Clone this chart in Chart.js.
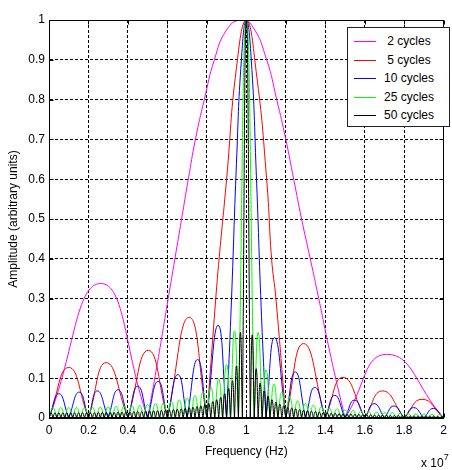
<!DOCTYPE html>
<html>
<head>
<meta charset="utf-8">
<script src="https://cdn.jsdelivr.net/npm/chart.js@4/dist/chart.umd.min.js"></script>
<style>
  body { margin: 0; background: #fff; }
  #wrap { position: relative; width: 452px; height: 470px; }
  #legend { position: absolute; left: 347px; top: 27px; width: 101px; height: 98px;
    border: 1px solid #222; background: #fff; font: 12px "Liberation Sans", Arial, sans-serif; color: #000; }
  .row { position: absolute; left: 0; width: 101px; height: 18px; }
  .row .ln { position: absolute; left: 6px; top: 9px; width: 22px; height: 1px; }
  .row .tx { position: absolute; left: 33px; width: 56px; top: 2px; text-align: center; white-space: nowrap; }
  #exp { position: absolute; left: 421px; top: 454px; font: 12px "Liberation Sans", Arial, sans-serif; color: #000; white-space: nowrap; }
  #exp sup { font-size: 9px; position: relative; top: -2px; }
</style>
</head>
<body>
<div id="wrap">
  <canvas id="myChart" width="452" height="470"></canvas>
  <div id="legend"></div>
  <div id="exp">x 10<sup>7</sup></div>
</div>
<script>
// axes
const xTickLabels = ["0", "0.2", "0.4", "0.6", "0.8", "1", "1.2", "1.4", "1.6", "1.8", "2"];
const yTickLabels = ["0", "0.1", "0.2", "0.3", "0.4", "0.5", "0.6", "0.7", "0.8", "0.9", "1"];
const seriesLabels = ["2 cycles", "5 cycles", "10 cycles", "25 cycles", "50 cycles"];
const seriesColors = ["#ff00ff", "#ff0000", "#0000ff", "#00ff00", "#000000"];

// frequency in units of 1e7 Hz; edges = zeros of the spectrum, pts = points read inside the lobes
const cyc2Edges = [0, 0.5, 1.5, 2];
const cyc2F = [0.262, 0.55, 0.604, 0.638, 0.672, 0.706, 0.742, 0.787, 0.838, 0.9, 0.97, 1.03, 1.103, 1.154, 1.2, 1.24, 1.28, 1.324, 1.367, 1.43, 1.712];
const cyc2A = [0.338, 0.14, 0.3, 0.4, 0.5, 0.6, 0.7, 0.8, 0.9, 0.975, 1, 0.985, 0.9, 0.8, 0.7, 0.6, 0.5, 0.4, 0.3, 0.15, 0.16];

const cyc5Edges = [0, 0.2, 0.4, 0.6, 0.8, 1.2, 1.4, 1.6, 1.8, 2];
const cyc5F = [0.1, 0.29, 0.503, 0.71, 0.845, 0.862, 0.9, 0.95, 1, 1.05, 1.103, 1.128, 1.15, 1.29, 1.49, 1.69, 1.89];
const cyc5A = [0.127, 0.139, 0.17, 0.253, 0.3, 0.4, 0.6, 0.88, 1, 0.87, 0.6, 0.4, 0.3, 0.187, 0.102, 0.068, 0.047];

const cyc10Edges = [0, 0.1, 0.2, 0.3, 0.4, 0.5, 0.6, 0.7, 0.8, 0.9, 1.1, 1.2, 1.3, 1.4, 1.5, 1.6, 1.7, 1.8, 1.9, 2];
const cyc10F = [0.05, 0.153, 0.245, 0.35, 0.45, 0.553, 0.653, 0.753, 0.857, 0.925, 0.95, 0.975, 1, 1.025, 1.05, 1.075,
  1.143, 1.248, 1.347, 1.448, 1.548, 1.648, 1.748, 1.848, 1.948];
const cyc10A = [0.061, 0.065, 0.068, 0.071, 0.08, 0.092, 0.109, 0.147, 0.233, 0.3, 0.64, 0.9, 1, 0.9, 0.62, 0.28,
  0.202, 0.116, 0.077, 0.057, 0.045, 0.036, 0.03, 0.026, 0.024];

const cyc25Edges = [0, 0.04, 0.08, 0.12, 0.16, 0.2, 0.24, 0.28, 0.32, 0.36, 0.4, 0.44, 0.48, 0.52, 0.56, 0.6, 0.64, 0.68, 0.72, 0.76, 0.8, 0.84, 0.88, 0.92, 0.96,
  1.04, 1.08, 1.12, 1.16, 1.2, 1.24, 1.28, 1.32, 1.36, 1.4, 1.44, 1.48, 1.52, 1.56, 1.6, 1.64, 1.68, 1.72, 1.76, 1.8, 1.84, 1.88, 1.92, 1.96, 2];
const cyc25Peaks = [0.026, 0.026, 0.026, 0.026, 0.026, 0.027, 0.027, 0.028, 0.029, 0.03, 0.031, 0.032, 0.034, 0.036, 0.038, 0.041, 0.045, 0.05, 0.056, 0.065, 0.078, 0.098, 0.134, 0.219,
  1,
  0.215, 0.121, 0.085, 0.065, 0.052, 0.043, 0.037, 0.032, 0.028, 0.025, 0.023, 0.02, 0.019, 0.017, 0.016, 0.015, 0.014, 0.013, 0.012, 0.011, 0.01, 0.01, 0.009, 0.009];

const cyc50Edges = [0, 0.02, 0.04, 0.06, 0.08, 0.1, 0.12, 0.14, 0.16, 0.18, 0.2, 0.22, 0.24, 0.26, 0.28, 0.3, 0.32, 0.34, 0.36, 0.38, 0.4, 0.42, 0.44, 0.46, 0.48,
  0.5, 0.52, 0.54, 0.56, 0.58, 0.6, 0.62, 0.64, 0.66, 0.68, 0.7, 0.72, 0.74, 0.76, 0.78, 0.8, 0.82, 0.84, 0.86, 0.88, 0.9, 0.92, 0.94, 0.96, 0.98,
  1.02, 1.04, 1.06, 1.08, 1.1, 1.12, 1.14, 1.16, 1.18, 1.2, 1.22, 1.24, 1.26, 1.28, 1.3, 1.32, 1.34, 1.36, 1.38, 1.4, 1.42, 1.44, 1.46, 1.48, 1.5,
  1.52, 1.54, 1.56, 1.58, 1.6, 1.62, 1.64, 1.66, 1.68, 1.7, 1.72, 1.74, 1.76, 1.78, 1.8, 1.82, 1.84, 1.86, 1.88, 1.9, 1.92, 1.94, 1.96, 1.98, 2];
const cyc50Peaks = [0.013, 0.013, 0.013, 0.013, 0.013, 0.013, 0.013, 0.013, 0.013, 0.013,
  0.013, 0.013, 0.014, 0.014, 0.014, 0.014, 0.014, 0.015, 0.015, 0.015,
  0.015, 0.016, 0.016, 0.016, 0.017, 0.017, 0.018, 0.018, 0.019, 0.02,
  0.02, 0.021, 0.022, 0.023, 0.024, 0.026, 0.027, 0.029, 0.031, 0.034,
  0.037, 0.041, 0.046, 0.052, 0.061, 0.074, 0.094, 0.131, 0.215,
  1,
  0.209, 0.124, 0.088, 0.068, 0.055, 0.046, 0.04, 0.035, 0.031, 0.027,
  0.025, 0.023, 0.021, 0.019, 0.018, 0.017, 0.016, 0.015, 0.014, 0.013,
  0.012, 0.012, 0.011, 0.01, 0.01, 0.01, 0.009, 0.009, 0.008, 0.008,
  0.008, 0.007, 0.007, 0.007, 0.007, 0.006, 0.006, 0.006, 0.006, 0.006,
  0.005, 0.005, 0.005, 0.005, 0.005, 0.005, 0.005, 0.004, 0.004];

// each lobe runs from one zero to the next; repeating the zero keeps the cusp sharp
function lobesFromPoints(edges, fs, amps) {
  const out = [];
  for (let i = 0; i < edges.length - 1; i++) {
    const a = edges[i], b = edges[i + 1];
    out.push({ x: a, y: 0 });
    fs.forEach(function(f, j) {
      if (f > a && f < b) out.push({ x: f, y: amps[j] });
    });
    out.push({ x: b, y: 0 });
  }
  return out;
}
function lobesFromPeaks(edges, peaks) {
  const out = [];
  for (let i = 0; i < edges.length - 1; i++) {
    out.push({ x: edges[i], y: 0 });
    out.push({ x: (edges[i] + edges[i + 1]) / 2, y: peaks[i] });
    out.push({ x: edges[i + 1], y: 0 });
  }
  return out;
}

const seriesData = [
  lobesFromPoints(cyc2Edges, cyc2F, cyc2A),
  lobesFromPoints(cyc5Edges, cyc5F, cyc5A),
  lobesFromPoints(cyc10Edges, cyc10F, cyc10A),
  lobesFromPeaks(cyc25Edges, cyc25Peaks),
  lobesFromPeaks(cyc50Edges, cyc50Peaks)
];

// legend box (html)
const legendTops = [4, 23, 41, 60, 78];
const legend = document.getElementById("legend");
seriesLabels.forEach(function(lab, i) {
  const row = document.createElement("div");
  row.className = "row";
  row.style.top = legendTops[i] + "px";
  const ln = document.createElement("div");
  ln.className = "ln";
  ln.style.backgroundColor = seriesColors[i];
  const tx = document.createElement("div");
  tx.className = "tx";
  tx.textContent = lab;
  row.appendChild(ln);
  row.appendChild(tx);
  legend.appendChild(row);
});

// box and inner tick marks like matlab
const boxPlugin = {
  id: "box",
  afterDatasetsDraw: function(chart) {
    const ctx = chart.ctx;
    const a = chart.chartArea;
    const l = Math.round(a.left) + 0.5, r = Math.round(a.right) - 0.5;
    const t = Math.round(a.top) + 0.5, b = Math.round(a.bottom) - 0.5;
    ctx.save();
    ctx.strokeStyle = "#000";
    ctx.lineWidth = 1;
    ctx.beginPath();
    chart.scales.x.ticks.forEach(function(tk) {
      const px = Math.round(chart.scales.x.getPixelForValue(tk.value)) + 0.5;
      ctx.moveTo(px, b); ctx.lineTo(px, b - 4);
      ctx.moveTo(px, t); ctx.lineTo(px, t + 4);
    });
    chart.scales.y.ticks.forEach(function(tk) {
      const py = Math.round(chart.scales.y.getPixelForValue(tk.value)) + 0.5;
      ctx.moveTo(l, py); ctx.lineTo(l + 4, py);
      ctx.moveTo(r, py); ctx.lineTo(r - 4, py);
    });
    ctx.stroke();
    ctx.strokeRect(l, t, r - l, b - t);
    ctx.restore();
  }
};

Chart.defaults.font.family = '"Liberation Sans", Arial, sans-serif';
Chart.defaults.font.size = 12;
Chart.defaults.color = "#000";

const ctx = document.getElementById("myChart").getContext("2d");
new Chart(ctx, {
  type: "line",
  data: {
    datasets: seriesData.map(function(d, i) {
      return {
        label: seriesLabels[i],
        data: d,
        borderColor: seriesColors[i],
        backgroundColor: seriesColors[i],
        borderWidth: 1,
        pointRadius: 0,
        tension: 0.5,
        fill: false,
        order: 4 - i
      };
    })
  },
  options: {
    responsive: false,
    animation: false,
    events: [],
    layout: { padding: { top: 20, right: 3, left: 0, bottom: 0 } },
    plugins: { legend: { display: false }, tooltip: { enabled: false } },
    scales: {
      x: {
        type: "linear",
        min: 0,
        max: 2,
        afterFit: function(s) { s.height = 52; },
        ticks: {
          stepSize: 0.2,
          padding: 5,
          maxRotation: 0,
          autoSkip: false,
          callback: function(v, i) { return xTickLabels[i]; }
        },
        grid: { color: "#000", lineWidth: 1, drawTicks: false },
        border: { display: true, color: "#000", dash: [3, 2] },
        title: { display: true, text: "Frequency (Hz)", padding: { top: 0, bottom: 11 } }
      },
      y: {
        type: "linear",
        min: 0,
        max: 1,
        afterFit: function(s) { s.width = 49; },
        ticks: {
          stepSize: 0.1,
          padding: 4,
          autoSkip: false,
          callback: function(v, i) { return yTickLabels[i]; }
        },
        grid: { color: "#000", lineWidth: 1, drawTicks: false },
        border: { display: true, color: "#000", dash: [3, 2] },
        title: { display: true, text: "Amplitude (arbitrary units)", padding: { top: 6, bottom: 0 } }
      }
    }
  },
  plugins: [boxPlugin]
});
</script>
</body>
</html>
